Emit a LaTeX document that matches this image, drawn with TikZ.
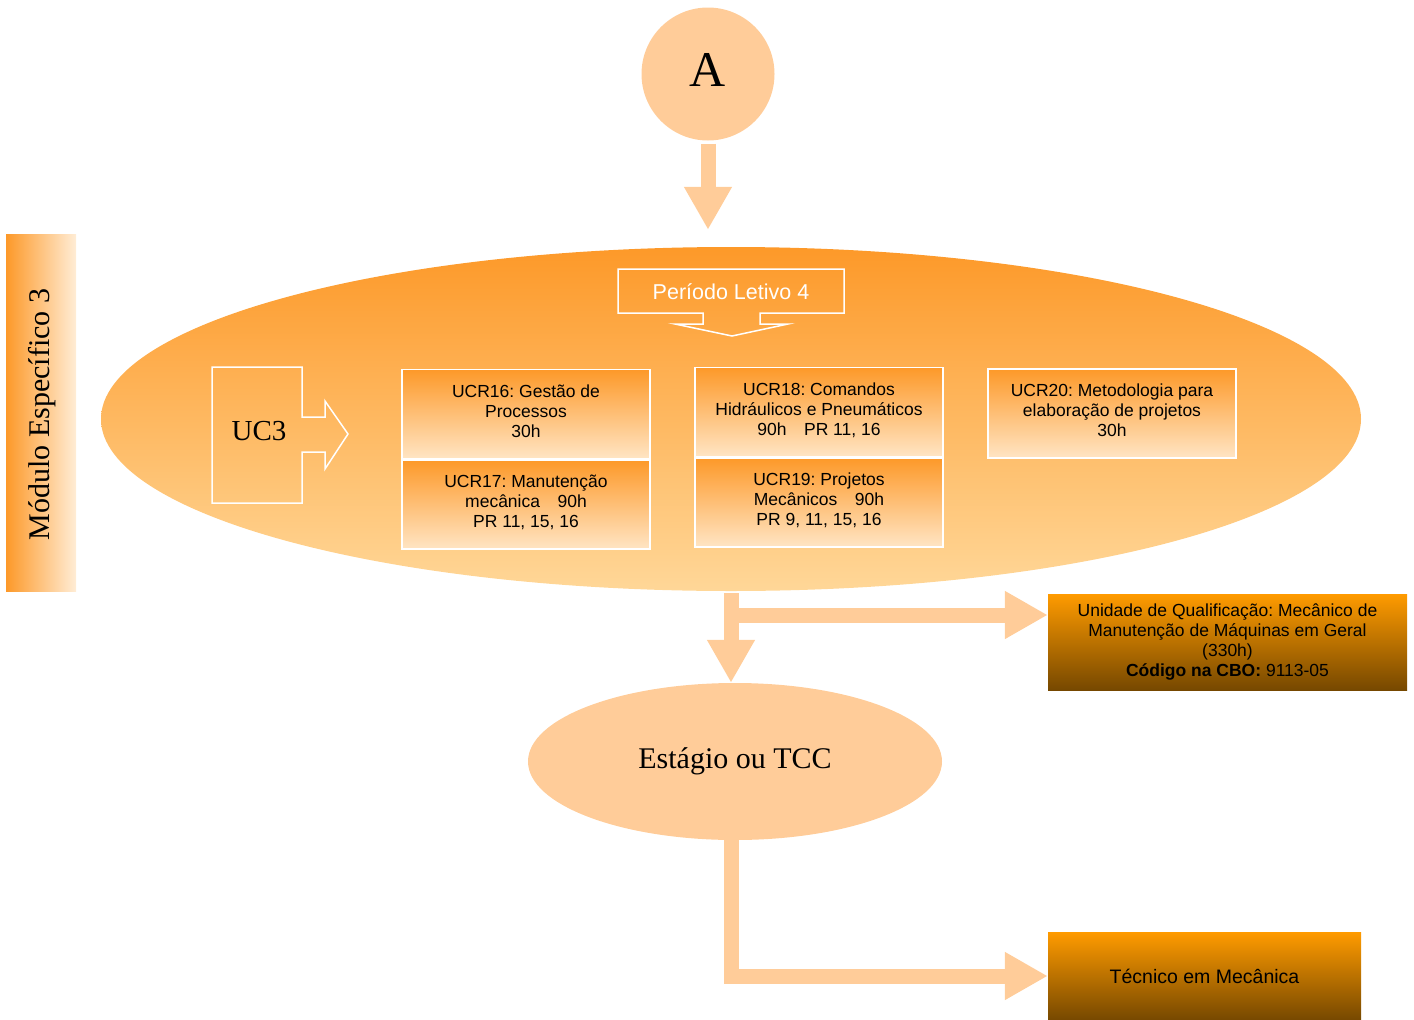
\documentclass[tikz,border=0pt]{standalone}
\usepackage{fontspec}
\setmainfont{Liberation Serif}
\setsansfont{Liberation Sans}
\usetikzlibrary{arrows.meta,positioning,shapes.geometric}
\definecolor{laranja}{RGB}{253,153,41}
\definecolor{laranjaforte}{RGB}{255,155,0}
\definecolor{pessego}{RGB}{255,204,153}
\definecolor{pessegoclaro}{RGB}{255,215,152}
\definecolor{claro}{RGB}{255,229,196}
\definecolor{marrom}{RGB}{118,72,0}
\frenchspacing
\tikzset{ucr node/.style={rectangle,draw=white,line width=1.5pt,top color=laranja,bottom color=claro,
    minimum width=248pt,minimum height=89pt,inner sep=0pt,align=center,font=\sffamily\fontsize{17.5}{20}\selectfont},
  final node/.style={rectangle,top color=laranjaforte,bottom color=marrom,align=center,inner sep=0pt,
    font=\sffamily\fontsize{17.5}{20}\selectfont},
  seta/.style={draw=pessego,line width=15pt,line join=miter,-{Triangle[width=45pt,length=43pt]}},
}

\begin{document}
\begin{tikzpicture}[x=1pt,y=-1pt,
    caixa/.style={draw=white,line width=1.5pt}]
    \useasboundingbox (0,0) rectangle (1414,1020);

    % modulo na esquerda
    \node[minimum width=70pt,minimum height=357pt,inner sep=0pt,left color=laranja,right color=claro!70!white] (modulo) at (41,412.5) {};
    \node[rotate=90,font=\fontsize{30}{34}\selectfont] at ([xshift=1pt,yshift=-2pt]modulo) {Módulo Específico 3};

    \node[circle,fill=pessego,minimum size=133pt,inner sep=0pt,font=\fontsize{50}{50}\selectfont] (modA) at (708,74) {\raisebox{8pt}{A}};

    \node[ellipse,top color=laranja,bottom color=pessegoclaro,minimum width=1260pt,minimum height=344pt,inner sep=0pt] (periodo) at (731,419) {};

    % periodo letivo
    \draw[caixa] (618,269) -- (844,269) -- (844,313) -- (760,313) -- (760,324) -- (788,324) -- (732,336)
      -- (675,324) -- (703,324) -- (703,313) -- (618,313) -- cycle;
    \node[text=white,font=\sffamily\fontsize{21.5}{24}\selectfont] (letivo) at (731,292) {Período Letivo 4};

    % UC3
    \draw[caixa] (212,367) -- (302,367) -- (302,417) -- (325,417) -- (325,401) -- (348,434) -- (325,469)
      -- (325,452) -- (302,452) -- (302,503) -- (212,503) -- cycle;
    \node[font=\fontsize{29}{32}\selectfont] (uc3) at (259,431) {UC3};

    \node[ucr node] (ucr16) at (526,414) {UCR16: Gestão de\\Processos\\30h\\[-14pt]};
    \node[ucr node,below=0pt of ucr16] (ucr17) {UCR17: Manutenção\\mecânica\quad 90h\\PR 11, 15, 16\\[-14pt]};
    \node[ucr node] (ucr18) at (819,412) {UCR18: Comandos\\Hidráulicos e Pneumáticos\\90h\quad PR 11, 16\\[-14pt]};
    \node[ucr node,below=0pt of ucr18] (ucr19) {UCR19: Projetos\\Mecânicos\quad 90h\\PR 9, 11, 15, 16\\[-14pt]};
    \node[ucr node] (ucr20) at (1112,413.5) {UCR20: Metodologia para\\elaboração de projetos\\30h\\[-14pt]};

    \node[final node,minimum width=359pt,minimum height=96pt] (qualif) at (1227.5,642)
      {Unidade de Qualificação: Mecânico de\\Manutenção de Máquinas em Geral\\(330h)\\\textbf{Código na CBO:} 9113-05};

    \node[ellipse,fill=pessego,minimum width=414pt,minimum height=157pt,inner sep=0pt,font=\fontsize{30}{34}\selectfont] (estagio) at (735,761.5) {\raisebox{3pt}{Estágio ou TCC}};

    \node[final node,minimum width=313pt,minimum height=88pt,font=\sffamily\fontsize{19.5}{22}\selectfont] (tecnico) at (1204.5,976) {Técnico em Mecânica};

    % setas
    \coordinate (qentrada) at ([yshift=27pt]qualif.west);
    \draw[seta,shorten <=3pt,shorten >=17pt] (modA) -- (modA |- periodo.north);
    \draw[seta,shorten <=2pt] (periodo.south) -- (periodo.south |- estagio.north);
    \draw[seta] (periodo.south |- qentrada) -- (qentrada);
    \draw[seta] (estagio.south -| periodo.south) |- (tecnico.west);
\end{tikzpicture}
\end{document}
